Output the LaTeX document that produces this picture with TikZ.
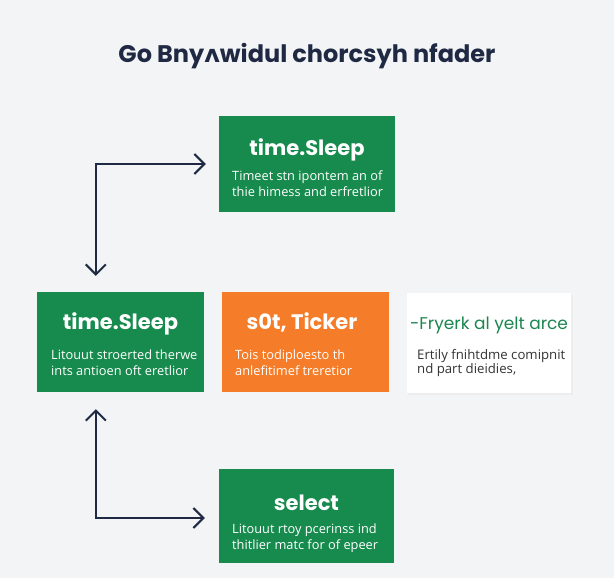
\documentclass[tikz,border=0pt]{standalone}
\usepackage{fontspec}
\setmainfont{Lato}
\newfontfamily\headfont{Poppins}
\newfontfamily\bodyfont{Open Sans}
\newfontfamily\ipafont{DejaVu Sans}
\usetikzlibrary{arrows.meta}
\definecolor{bgc}{HTML}{F3F4F5}
\definecolor{gbox}{HTML}{178B4E}
\definecolor{obox}{HTML}{F57C28}
\definecolor{navy}{HTML}{1F2943}
\definecolor{gtext}{HTML}{1C8650}
\definecolor{btext}{HTML}{333333}
\tikzset{
  box/.style={rectangle, inner sep=0pt, draw=none},
  boxtitle/.style={font=\headfont\bfseries\fontsize{21}{24}\selectfont, text=white, inner sep=0pt, anchor=base},
  boxbody/.style={font=\bodyfont\fontsize{12.8}{16}\selectfont, text=white, inner sep=0pt, align=left, anchor=base west},
  conn/.style={draw=navy, line width=2pt,
    {Straight Barb[length=10pt,width=20pt,line width=2pt]}-{Straight Barb[length=10pt,width=20pt,line width=2pt]}}
}
\begin{document}
\begin{tikzpicture}[x=1pt,y=-1pt]
\fill[bgc] (0,0) rectangle (614,578);
\useasboundingbox (0,0) rectangle (614,578);
% title
\node[font=\headfont\bfseries\fontsize{24}{27}\selectfont, text=navy, anchor=base, inner sep=0pt] (title) at (307,63)
  {Go Bny{\ipafont\bfseries ʌ}widul chorcsyh nfader};
% boxes
\node[box, fill=gbox, minimum width=176pt, minimum height=96pt] (tb) at (307,164) {};
\node[box, fill=gbox, minimum width=167pt, minimum height=100pt] (ml) at (120.5,342) {};
\node[box, fill=obox, minimum width=167pt, minimum height=100pt] (mc) at (305.5,342) {};
\fill[black!7] (408,294.5) rectangle (572.5,394.5);
\node[box, fill=white, minimum width=164pt, minimum height=100pt] (mr) at (489,342.5) {};
\node[box, fill=gbox, minimum width=175pt, minimum height=94pt] (bb) at (306.5,516) {};
% texts (body anchor = baseline of last line)
\node[boxtitle] (tbt) at (307,155) {time.Sleep};
\node[boxbody] (tbb) at (232,196) {Timeet stn ipontem an of\\thie himess and erfretlior};
\node[boxtitle] (mlt) at (120.5,329) {time.Sleep};
\node[boxbody] (mlb) at (51,375) {Litouut stroerted therwe\\ints antioen oft eretlior};
\node[boxtitle] (mct) at (302,329) {s0t, Ticker};
\node[boxbody] (mcb) at (235,375) {Tois todiploesto th\\anlefitimef treretior};
\node[boxtitle, text=gtext, font=\headfont\fontsize{17}{20}\selectfont] (mrt) at (489,329) {-Fryerk al yelt arce};
\node[boxbody, text=btext, font=\bodyfont\fontsize{13.2}{13.5}\selectfont] (mrb) at (417,373) {Ertily fnihtdme comipnit\\nd part dieidies,};
\node[boxtitle] (bbt) at (306.5,510) {select};
\node[boxbody] (bbb) at (232,549) {Litouut rtoy pcerinss ind\\thitlier matc for of epeer};
% connectors
\draw[conn] ([shift={(59pt,16pt)}]ml.north west) |- ([xshift=-13pt]tb.west);
\draw[conn] ([shift={(59pt,-17pt)}]ml.south west) |- ([xshift=-14pt,yshift=-2pt]bb.west);
\end{tikzpicture}
\end{document}
